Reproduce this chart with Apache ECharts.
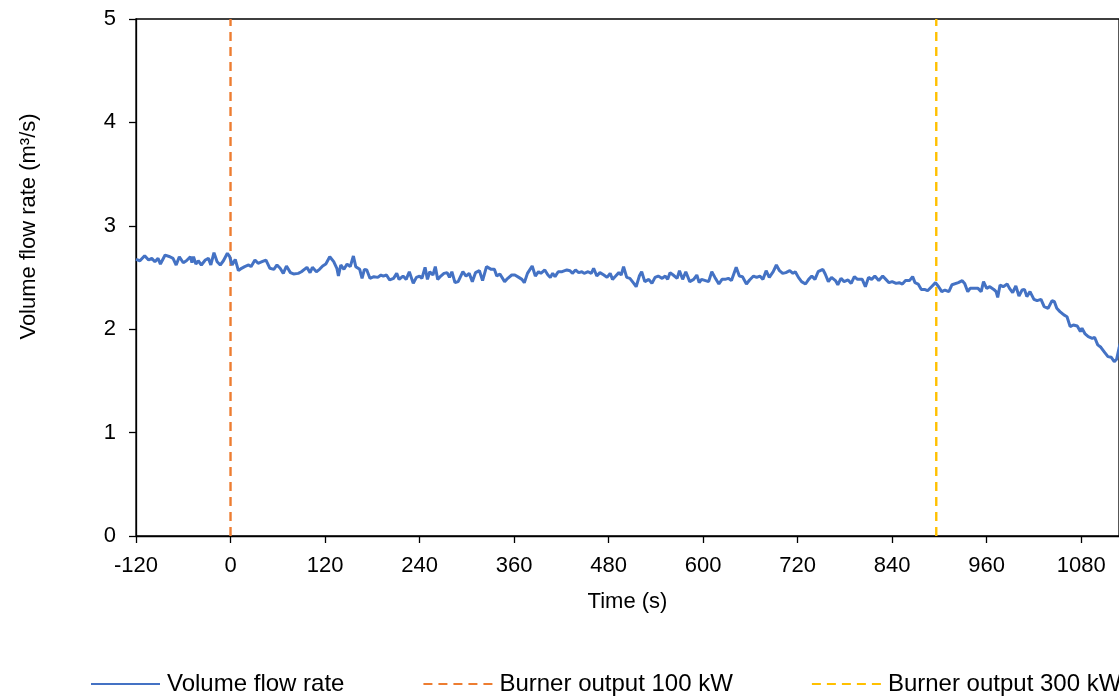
<!DOCTYPE html>
<html>
<head>
<meta charset="utf-8">
<script src="https://cdn.jsdelivr.net/npm/echarts@6/dist/echarts.min.js"></script>
<style>
html,body{margin:0;padding:0;overflow:hidden;background:#fff;}
#chart{width:1400px;height:699px;}
</style>
</head>
<body>
<div id="chart"></div>
<script>
const timeS = [
-120,-115,-109,-104,-100,-96,-92,-89,-83,-77,-73,-69,-65,-60,-56,-51,-49,-47,-44,-41,-37,-32,-28,-25,-21,-17,-13,-9,-4,-1,
2,6,10,14,18,23,26,31,35,40,45,50,55,59,63,67,71,76,80,86,90,
97,101,104,109,113,117,121,126,131,135,137,140,144,148,152,156,159,164,167,170,173,177,182,187,191,194,198,202,207,211,214,219,223,227,232,236,240,243,247,250,253,257,260,263,267,271,275,278,281,285,289,295,299,303,
307,311,316,320,325,331,335,338,342,348,352,357,361,366,370,373,377,383,387,391,394,399,403,406,409,412,416,421,427,431,434,438,442,446,449,454,458,461,465,469,474,478,482,485,489,493,496,499,503,507,512,
515,519,522,526,531,535,539,543,548,552,555,558,562,567,570,574,578,583,588,592,595,598,603,607,611,615,620,624,628,632,636,642,646,650,655,659,664,668,672,676,680,684,689,693,697,701,705,710,714,717,721,
725,730,734,738,742,746,752,755,759,763,768,771,775,779,784,788,792,796,802,806,810,814,818,823,828,832,836,840,845,849,853,857,862,866,869,873,877,881,885,890,895,899,903,907,912,916,
924,929,932,936,939,945,949,953,956,960,964,969,972,974,977,981,986,989,993,997,1001,1005,1008,1011,1015,1020,1024,1029,1033,1038,1043,1046,1049,1053,1058,1062,1066,1070,1075,1079,1081,1085,1089,1094,1097,1101,1105,1110,1114,1118,1122,1125,1128,1131
];
const flowRate = [
2.676,2.662,2.711,2.669,2.685,2.653,2.685,2.630,2.717,2.701,2.685,2.621,2.701,2.643,2.662,2.701,2.643,2.701,2.630,2.662,2.621,2.669,2.685,2.621,2.740,2.653,2.621,2.662,2.734,2.701,
2.621,2.675,2.566,2.589,2.605,2.621,2.605,2.669,2.637,2.653,2.669,2.589,2.579,2.621,2.589,2.540,2.611,2.547,2.534,2.540,2.556,
2.598,2.547,2.598,2.556,2.579,2.611,2.630,2.701,2.653,2.589,2.514,2.621,2.579,2.630,2.605,2.708,2.605,2.579,2.492,2.579,2.573,2.492,2.508,2.501,2.524,2.514,2.524,2.476,2.492,2.540,2.482,2.514,2.482,2.556,2.443,2.501,2.514,2.492,2.598,2.482,2.556,2.524,2.605,2.482,2.514,2.540,2.547,2.501,2.556,2.450,2.460,2.556,2.514,2.540,
2.460,2.547,2.566,2.470,2.605,2.579,2.579,2.514,2.534,2.460,2.492,2.524,2.524,2.501,2.482,2.450,2.540,2.611,2.514,2.556,2.540,2.573,2.524,2.501,2.540,2.508,2.556,2.556,2.573,2.566,2.540,2.573,2.547,2.556,2.540,2.556,2.540,2.589,2.514,2.547,2.524,2.501,2.540,2.482,2.514,2.547,2.524,2.605,2.501,2.492,2.443,
2.411,2.514,2.556,2.460,2.482,2.443,2.501,2.514,2.492,2.514,2.482,2.547,2.524,2.492,2.566,2.482,2.556,2.460,2.482,2.524,2.450,2.482,2.470,2.460,2.556,2.501,2.437,2.482,2.482,2.492,2.470,2.598,2.514,2.508,2.437,2.476,2.514,2.501,2.514,2.482,2.566,2.501,2.556,2.621,2.566,2.540,2.547,2.566,2.540,2.556,2.501,
2.460,2.437,2.482,2.514,2.482,2.556,2.579,2.534,2.460,2.501,2.470,2.430,2.492,2.460,2.476,2.443,2.508,2.482,2.482,2.411,2.501,2.482,2.514,2.470,2.514,2.482,2.450,2.460,2.443,2.450,2.437,2.470,2.470,2.508,2.450,2.437,2.385,2.385,2.372,2.411,2.450,2.411,2.363,2.379,2.363,2.430,
2.450,2.469,2.443,2.363,2.395,2.395,2.395,2.363,2.460,2.395,2.411,2.385,2.363,2.308,2.427,2.411,2.437,2.395,2.353,2.418,2.321,2.379,2.385,2.315,2.363,2.289,2.276,2.289,2.218,2.202,2.276,2.266,2.202,2.170,2.138,2.121,2.025,2.041,2.031,1.977,2.009,1.954,1.928,1.912,1.922,1.848,1.825,1.774,1.735,1.729,1.687,1.709,1.816,1.900
];
const burner100Time = 0;
const burner300Time = 896;
const yRange = [0, 5];
const xTicks = { min: -120, max: 1128, interval: 120 };

const flowData = timeS.map((t, i) => [t, flowRate[i]]);
const font = '"Liberation Sans", Arial, sans-serif';

const chart = echarts.init(document.getElementById('chart'), null, { renderer: 'canvas' });
chart.setOption({
  animation: false,
  backgroundColor: '#fff',
  grid: { left: 136, top: 19, right: 281, bottom: 163, show: true, borderColor: '#000', borderWidth: 1.3, backgroundColor: 'transparent' },
  legend: {
    left: 85, top: 667, itemWidth: 69, itemHeight: 22, itemGap: 78,
    itemStyle: { opacity: 0 },
    textStyle: { fontFamily: font, fontSize: 24, color: '#000', padding: [0, 0, 0, 2] },
    data: ['Volume flow rate', 'Burner output 100 kW', 'Burner output 300 kW']
  },
  xAxis: {
    type: 'value', min: xTicks.min, max: xTicks.max, interval: xTicks.interval,
    name: 'Time (s)', nameLocation: 'middle', nameGap: 55,
    nameTextStyle: { fontFamily: font, fontSize: 22, color: '#000' },
    axisLine: { onZero: false, lineStyle: { color: '#000', width: 1.3 } },
    axisTick: { show: true, inside: false, length: 7, lineStyle: { color: '#000', width: 1.3 } },
    axisLabel: { fontFamily: font, fontSize: 22, color: '#000', margin: 19, showMaxLabel: false,
      formatter: (v) => String(v) },
    splitLine: { show: false }
  },
  yAxis: {
    type: 'value', min: yRange[0], max: yRange[1], interval: 1,
    name: 'Volume flow rate (m³/s)', nameLocation: 'middle', nameGap: 96,
    nameTextStyle: { fontFamily: font, fontSize: 22, color: '#000', padding: [0, 0, 0, 102] },
    axisLine: { onZero: false, lineStyle: { color: '#000', width: 1.3 } },
    axisTick: { show: true, inside: false, length: 7, lineStyle: { color: '#000', width: 1.3 } },
    axisLabel: { fontFamily: font, fontSize: 22, color: '#000', margin: 20 },
    splitLine: { show: false }
  },
  series: [
    {
      name: 'Volume flow rate', type: 'line', data: flowData, symbol: 'none', clip: true,
      lineStyle: { color: '#4472C4', width: 3 }, itemStyle: { color: '#4472C4' }, z: 3
    },
    {
      name: 'Burner output 100 kW', type: 'line', data: [[burner100Time, yRange[0]], [burner100Time, yRange[1]]], symbol: 'none',
      lineStyle: { color: '#ED7D31', width: 2.4, type: [9, 6] }, itemStyle: { color: '#ED7D31' }, z: 2
    },
    {
      name: 'Burner output 300 kW', type: 'line', data: [[burner300Time, yRange[0]], [burner300Time, yRange[1]]], symbol: 'none',
      lineStyle: { color: '#FFC000', width: 2.4, type: [9, 6] }, itemStyle: { color: '#FFC000' }, z: 2
    }
  ]
});
</script>
</body>
</html>
